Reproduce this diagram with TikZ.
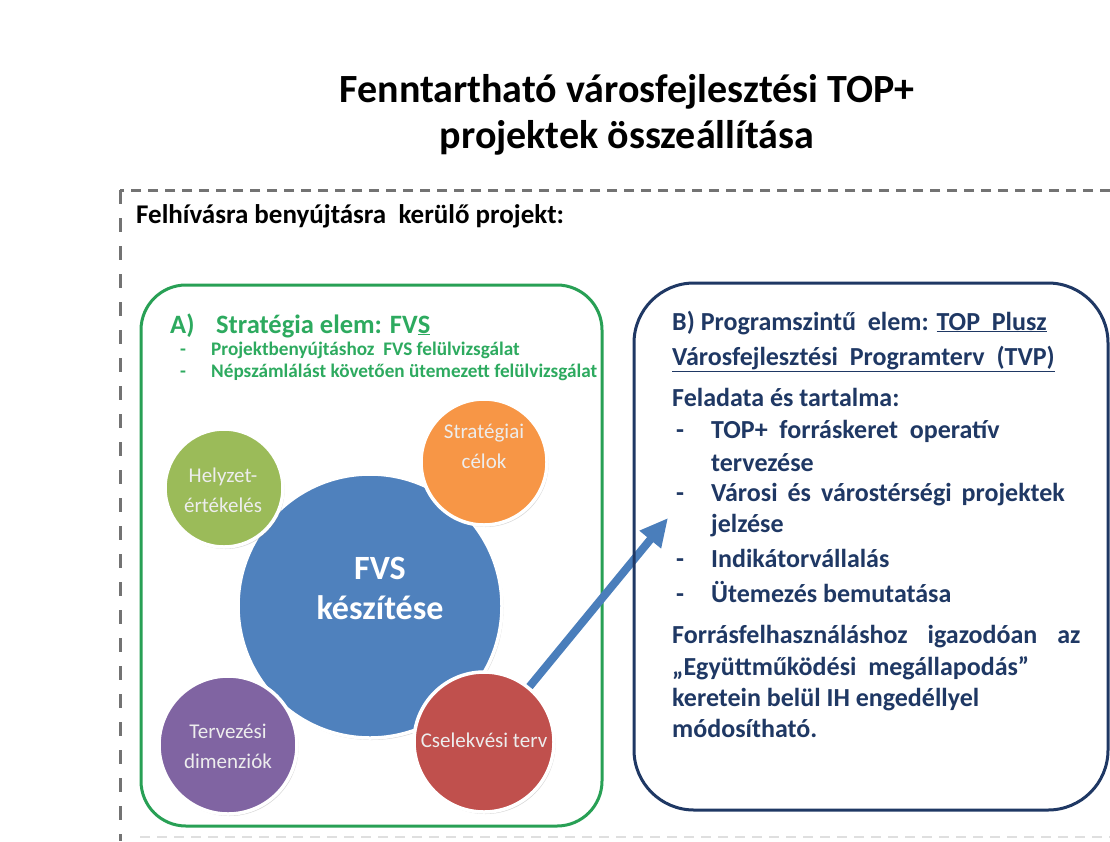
\documentclass[tikz,border=0pt]{standalone}
\usepackage{fontspec}
\setmainfont{Carlito}
\usetikzlibrary{arrows.meta,shadows}
\definecolor{boxgreen}{RGB}{40,160,85}
\definecolor{txtgreen}{RGB}{45,170,95}
\definecolor{navy}{RGB}{31,56,100}
\definecolor{fvsblue}{RGB}{79,129,189}
\definecolor{cgreen}{RGB}{155,187,89}
\definecolor{corange}{RGB}{247,150,70}
\definecolor{cpurple}{RGB}{128,100,162}
\definecolor{cred}{RGB}{192,80,77}
\definecolor{arrowblue}{RGB}{74,126,187}
\begin{document}
\begin{tikzpicture}[x=1pt,y=-1pt,
  bubble/.style={circle, draw=white, line width=3.5pt, inner sep=0pt,
    drop shadow={opacity=0.3, shadow xshift=1.5pt, shadow yshift=-2pt}},
  bubtxt/.style={align=center, inner sep=0pt, text=white!93!black,
    font=\fontsize{21}{30}\selectfont},
  btxt/.style={anchor=base west, inner sep=0pt, text=navy,
    font=\fontsize{26}{31}\selectfont\bfseries},
  gtxt/.style={anchor=base west, inner sep=0pt, text=txtgreen,
    font=\fontsize{19.2}{22}\selectfont\bfseries},
  ghead/.style={anchor=base west, inner sep=0pt, text=txtgreen,
    font=\fontsize{26.5}{30}\selectfont\bfseries},
]
\useasboundingbox (0,0) rectangle (1110,841);
\fill[white] (0,0) rectangle (1110,841);

% title
\node[align=center, inner sep=0pt, font=\fontsize{40}{46}\selectfont\bfseries] (title) at (627,115)
  {Fenntartható városfejlesztési TOP+\\projektek összeállítása};

% dashed frame
\coordinate (frTR) at (1110,190);
\coordinate (frTL) at (120,190);
\coordinate (frBL) at (120,841);
\coordinate (frB1) at (140,837);
\coordinate (frB2) at (1110,837);
\draw[gray!90!black, line width=3pt, dash pattern=on 10pt off 7pt] (frTR) -- (frTL);
\draw[gray!90!black, line width=3pt, dash pattern=on 14pt off 14pt] (frTL) -- (frBL);
\draw[gray!25, line width=2pt, dash pattern=on 10pt off 7pt] (frB1) -- (frB2);

\node[anchor=base west, inner sep=0pt, font=\fontsize{27}{32}\selectfont\bfseries] (call) at (136,223)
  {Felhívásra benyújtásra\ \ kerülő projekt:};

% green box
\draw[boxgreen, line width=3pt, rounded corners=45pt] (141,285) rectangle (602,826);
\node[ghead] (aLbl) at (170,333) {A)};
\node[ghead] (aTitle) at (216,333) {Stratégia elem: FV\underline{S}};
\node[gtxt] (ga1) at (180,355) {-};
\node[gtxt] (gb1) at (211,355) {Projektbenyújtáshoz\ \ FVS felülvizsgálat};
\node[gtxt] (ga2) at (180,377) {-};
\node[gtxt] (gb2) at (211,377) {Népszámlálást követően ütemezett felülvizsgálat};

% circles
\node[bubble, fill=fvsblue, minimum size=264pt] (fvs) at (370,606) {};
\node[bubble, fill=cgreen, minimum size=118pt] (helyzet) at (224,488) {};
\node[bubble, fill=corange, minimum size=126pt] (strat) at (484,462) {};
\node[bubble, fill=cpurple, minimum size=138pt] (tervdim) at (228,745) {};
\node[bubble, fill=cred, minimum size=140pt] (csel) at (484,742) {};

\node[align=center, inner sep=0pt, text=white, font=\fontsize{34}{40}\selectfont\bfseries] (fvsT) at (380,588) {FVS\\készítése};
\node[bubtxt] (helyzetT) at (223,490) {Helyzet-\\értékelés};
\node[bubtxt] (stratT) at (484,446) {Stratégiai\\célok};
\node[bubtxt] (tervdimT) at (228,746) {Tervezési\\dimenziók};
\node[bubtxt] (cselT) at (484,740) {Cselekvési terv};

% arrow
\coordinate (tip) at (668,518);
\draw[arrowblue, line width=8pt, -{Triangle[length=28pt,width=26pt]}] (csel) -- (tip);

% blue box
\draw[navy, line width=3pt, rounded corners=60pt] (634,283) rectangle (1108,810);
\node[btxt] (l1) at (672,330) {B) Programszintű\ \ elem: \underline{TOP\ \ Plusz}};
\node[btxt] (l2) at (672,365) {\underline{Városfejlesztési\ \ Programterv\ \ (TVP)}};
\node[btxt] (l3) at (672,406) {Feladata és tartalma:};
\node[btxt] (d1) at (676,438) {-};
\node[btxt] (l4) at (711,438) {TOP+\ \ forráskeret\ \ operatív};
\node[btxt] (l5) at (711,471) {tervezése};
\node[btxt] (d2) at (676,501) {-};
\node[btxt] (l6) at (711,501) {Városi\hspace{10pt}és\hspace{10pt}várostérségi\hspace{10pt}projektek};
\node[btxt] (l7) at (711,532) {jelzése};
\node[btxt] (d3) at (676,567) {-};
\node[btxt] (l8) at (711,567) {Indikátorvállalás};
\node[btxt] (d4) at (676,602) {-};
\node[btxt] (l9) at (711,602) {Ütemezés bemutatása};
\node[btxt] (l10) at (672,643) {Forrásfelhasználáshoz\hspace{20pt}igazodóan\hspace{20pt}az};
\node[btxt] (l11) at (672,675) {„Együttműködési\ \ megállapodás”};
\node[btxt] (l12) at (672,706) {keretein belül IH engedéllyel};
\node[btxt] (l13) at (672,737) {módosítható.};
\end{tikzpicture}
\end{document}
